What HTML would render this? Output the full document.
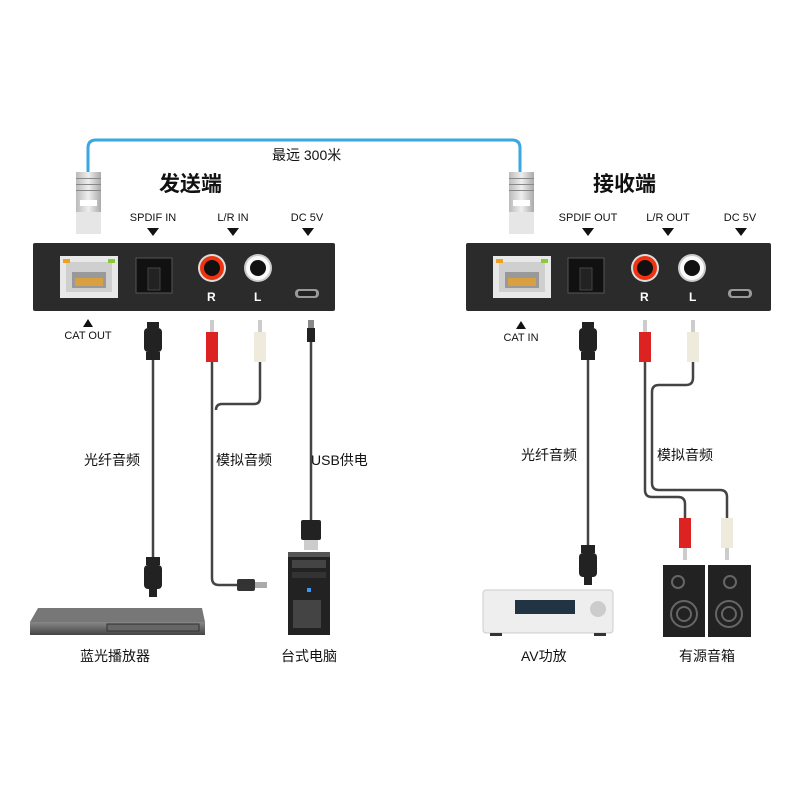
<!DOCTYPE html>
<html><head><meta charset="utf-8"><style>
html,body{margin:0;padding:0;background:#fff}
svg{display:block}
text{font-family:"Liberation Sans","Noto Sans CJK SC",sans-serif;fill:#111}
.s{font-size:11px}
.c{font-size:13px}
</style></head><body>
<svg width="800" height="800" viewBox="0 0 800 800">
<defs>
<linearGradient id="plug" x1="0" x2="1"><stop offset="0" stop-color="#bbb"/><stop offset=".5" stop-color="#eee"/><stop offset="1" stop-color="#aaa"/></linearGradient>
<linearGradient id="dev" x1="0" y1="0" x2="0" y2="1"><stop offset="0" stop-color="#888"/><stop offset="1" stop-color="#444"/></linearGradient>
</defs>
<path d="M88 180 V148 Q88 140 96 140 H512 Q520 140 520 148 V180" fill="none" stroke="#3aa7e0" stroke-width="3"/>
<text x="272" y="160" style="font-size:14px">最远 300米</text>
<g><rect x="76" y="172" width="25" height="62" fill="url(#plug)"/><rect x="76" y="212" width="25" height="22" fill="#e6e6e6"/><rect x="80" y="200" width="17" height="6" fill="#fff"/><rect x="76" y="178" width="25" height="1" fill="#888"/><rect x="76" y="184" width="25" height="1" fill="#888"/><rect x="76" y="190" width="25" height="1" fill="#888"/></g>
<g><rect x="509" y="172" width="25" height="62" fill="url(#plug)"/><rect x="509" y="212" width="25" height="22" fill="#e6e6e6"/><rect x="513" y="200" width="17" height="6" fill="#fff"/><rect x="509" y="178" width="25" height="1" fill="#888"/><rect x="509" y="184" width="25" height="1" fill="#888"/><rect x="509" y="190" width="25" height="1" fill="#888"/></g>
<text x="159" y="191" style="font-size:21px;font-weight:bold">发送端</text>
<text x="593" y="191" style="font-size:21px;font-weight:bold">接收端</text>
<g class="s" text-anchor="middle">
<text x="153" y="221" class="s">SPDIF IN</text><text x="233" y="221" class="s">L/R IN</text><text x="307" y="221" class="s">DC 5V</text>
<text x="588" y="221" class="s">SPDIF OUT</text><text x="668" y="221" class="s">L/R OUT</text><text x="740" y="221" class="s">DC 5V</text>
<text x="88" y="339" class="s">CAT OUT</text><text x="521" y="341" class="s">CAT IN</text>
</g>
<g fill="#111">
<polygon points="147,228 159,228 153,236"/><polygon points="227,228 239,228 233,236"/><polygon points="302,228 314,228 308,236"/>
<polygon points="582,228 594,228 588,236"/><polygon points="662,228 674,228 668,236"/><polygon points="735,228 747,228 741,236"/>
<polygon points="83,327 93,327 88,319"/><polygon points="516,329 526,329 521,321"/>
</g>
<rect x="33" y="243" width="302" height="68" rx="2" fill="#2b2b2b"/>
<rect x="466" y="243" width="305" height="68" rx="2" fill="#2b2b2b"/>
<rect x="60" y="256" width="58" height="42" fill="#e8e8e8"/><rect x="66" y="262" width="46" height="30" fill="#cfcfcf"/><rect x="72" y="272" width="34" height="16" fill="#999"/><rect x="75" y="278" width="28" height="8" fill="#d8a040"/><rect x="63" y="259" width="7" height="4" fill="#f0a020"/><rect x="108" y="259" width="7" height="4" fill="#8c3"/>
<rect x="136" y="258" width="36" height="35" fill="#111" stroke="#555"/><rect x="148" y="268" width="12" height="22" fill="#222" stroke="#444"/>
<circle cx="212" cy="268" r="14" fill="#ddd"/><circle cx="212" cy="268" r="12" fill="#e31"/><circle cx="212" cy="268" r="8" fill="#111"/>
<circle cx="258" cy="268" r="14" fill="#ccc"/><circle cx="258" cy="268" r="12" fill="#fafafa"/><circle cx="258" cy="268" r="8" fill="#111"/>
<rect x="295" y="289" width="24" height="9" rx="4" fill="#999"/><rect x="298" y="291" width="18" height="5" rx="2" fill="#222"/>
<text x="207" y="301" style="font-size:12px;font-weight:bold;fill:#fff">R</text><text x="254" y="301" style="font-size:12px;font-weight:bold;fill:#fff">L</text>
<rect x="493" y="256" width="58" height="42" fill="#e8e8e8"/><rect x="499" y="262" width="46" height="30" fill="#cfcfcf"/><rect x="505" y="272" width="34" height="16" fill="#999"/><rect x="508" y="278" width="28" height="8" fill="#d8a040"/><rect x="496" y="259" width="7" height="4" fill="#f0a020"/><rect x="541" y="259" width="7" height="4" fill="#8c3"/>
<rect x="568" y="258" width="36" height="35" fill="#111" stroke="#555"/><rect x="580" y="268" width="12" height="22" fill="#222" stroke="#444"/>
<circle cx="645" cy="268" r="14" fill="#ddd"/><circle cx="645" cy="268" r="12" fill="#e31"/><circle cx="645" cy="268" r="8" fill="#111"/>
<circle cx="692" cy="268" r="14" fill="#ccc"/><circle cx="692" cy="268" r="12" fill="#fafafa"/><circle cx="692" cy="268" r="8" fill="#111"/>
<rect x="728" y="289" width="24" height="9" rx="4" fill="#999"/><rect x="731" y="291" width="18" height="5" rx="2" fill="#222"/>
<text x="640" y="301" style="font-size:12px;font-weight:bold;fill:#fff">R</text><text x="689" y="301" style="font-size:12px;font-weight:bold;fill:#fff">L</text>
<g fill="none" stroke="#444" stroke-width="2.5">
<path d="M153 360 V560"/>
<path d="M212 360 V578 Q212 585 219 585 H240"/>
<path d="M260 360 V398 Q260 404 254 404 H222 Q216 404 216 410"/>
<path d="M311 340 V520"/>
<path d="M588 360 V550"/>
<path d="M645 360 V490 Q645 497 652 497 H678 Q685 497 685 504 V520"/>
<path d="M693 360 V378 Q693 385 686 385 H659 Q652 385 652 392 V483 Q652 490 659 490 H720 Q727 490 727 497 V520"/>
</g>
<g fill="#222">
<rect x="147" y="322" width="12" height="6"/><rect x="144" y="328" width="18" height="24" rx="4"/><rect x="146" y="352" width="14" height="8"/>
<rect x="146" y="557" width="14" height="8"/><rect x="144" y="565" width="18" height="24" rx="4"/><rect x="149" y="589" width="8" height="8"/>
<rect x="582" y="322" width="12" height="6"/><rect x="579" y="328" width="18" height="24" rx="4"/><rect x="581" y="352" width="14" height="8"/>
<rect x="581" y="545" width="14" height="8"/><rect x="579" y="553" width="18" height="24" rx="4"/><rect x="584" y="577" width="8" height="8"/>
</g>
<rect x="210" y="320" width="4" height="12" fill="#ccc"/><rect x="206" y="332" width="12" height="30" fill="#d22"/>
<rect x="258" y="320" width="4" height="12" fill="#ccc"/><rect x="254" y="332" width="12" height="30" fill="#eeeadc"/>
<rect x="643" y="320" width="4" height="12" fill="#ccc"/><rect x="639" y="332" width="12" height="30" fill="#d22"/>
<rect x="691" y="320" width="4" height="12" fill="#ccc"/><rect x="687" y="332" width="12" height="30" fill="#eeeadc"/>
<rect x="679" y="518" width="12" height="30" fill="#d22"/><rect x="683" y="548" width="4" height="12" fill="#ccc"/>
<rect x="721" y="518" width="12" height="30" fill="#eeeadc"/><rect x="725" y="548" width="4" height="12" fill="#ccc"/>
<rect x="308" y="320" width="6" height="8" fill="#888"/><rect x="307" y="328" width="8" height="14" fill="#222"/>
<rect x="301" y="520" width="20" height="20" rx="2" fill="#222"/><rect x="304" y="540" width="14" height="10" fill="#ccc"/>
<rect x="237" y="579" width="18" height="12" rx="2" fill="#333"/><rect x="255" y="582" width="12" height="6" fill="#aaa"/>
<rect x="288" y="552" width="42" height="83" fill="#222"/><rect x="288" y="552" width="42" height="5" fill="#555"/><rect x="292" y="560" width="34" height="8" fill="#444"/><rect x="292" y="572" width="34" height="6" fill="#333"/><rect x="307" y="588" width="4" height="4" fill="#39f"/><rect x="293" y="600" width="28" height="28" fill="#444"/>
<polygon points="38,608 202,608 205,622 30,622" fill="#777"/><rect x="30" y="622" width="175" height="13" fill="url(#dev)"/><rect x="107" y="624" width="92" height="7" fill="#666" stroke="#333"/>
<rect x="483" y="590" width="130" height="43" rx="3" fill="#eee" stroke="#ccc"/><rect x="515" y="600" width="60" height="14" fill="#234"/><circle cx="598" cy="609" r="8" fill="#ccc"/><rect x="490" y="633" width="12" height="3" fill="#333"/><rect x="594" y="633" width="12" height="3" fill="#333"/>
<rect x="663" y="565" width="42" height="72" fill="#222"/><rect x="708" y="565" width="43" height="72" fill="#222"/>
<g fill="none" stroke="#666" stroke-width="2">
<circle cx="678" cy="582" r="6"/><circle cx="684" cy="614" r="13"/><circle cx="684" cy="614" r="7"/>
<circle cx="730" cy="582" r="6"/><circle cx="729" cy="614" r="13"/><circle cx="729" cy="614" r="7"/>
</g>
<g style="font-size:14px">
<text x="84" y="465">光纤音频</text><text x="216" y="465">模拟音频</text><text x="311" y="465">USB供电</text>
<text x="521" y="460">光纤音频</text><text x="657" y="460">模拟音频</text>
<text x="80" y="661">蓝光播放器</text><text x="281" y="661">台式电脑</text>
<text x="521" y="661">AV功放</text><text x="679" y="661">有源音箱</text>
</g>
</svg>
</body></html>
